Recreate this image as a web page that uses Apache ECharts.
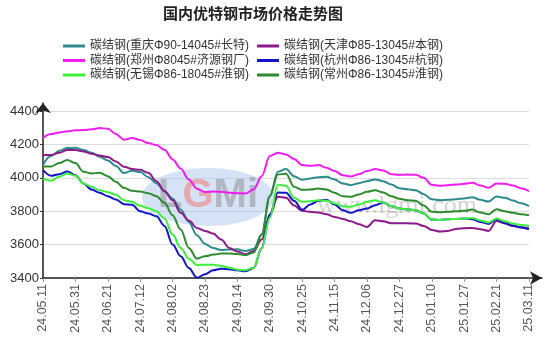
<!DOCTYPE html>
<html><head><meta charset="utf-8">
<script src="https://cdn.jsdelivr.net/npm/echarts@6/dist/echarts.min.js"></script>
<style>html,body{margin:0;padding:0;background:#fff}#c{width:554px;height:355px}</style>
</head><body><div id="c"></div>
<script>
const titleText = '国内优特钢市场价格走势图';
const categories = ['24.05.11','24.05.16','24.05.21','24.05.26','24.05.31','24.06.05','24.06.11','24.06.16','24.06.21','24.06.26','24.07.02','24.07.07','24.07.12','24.07.17','24.07.23','24.07.28','24.08.02','24.08.07','24.08.13','24.08.18','24.08.23','24.08.28','24.09.03','24.09.09','24.09.14','24.09.18','24.09.22','24.09.26','24.09.30','24.10.10','24.10.16','24.10.20','24.10.25','24.10.30','24.11.05','24.11.10','24.11.15','24.11.20','24.11.26','24.12.01','24.12.06','24.12.11','24.12.17','24.12.22','24.12.27','24.12.31','25.01.03','25.01.07','25.01.10','25.01.14','25.01.18','25.01.23','25.01.27','25.02.06','25.02.12','25.02.17','25.02.21','25.02.25','25.03.01','25.03.06','25.03.11'];
const yMin = 3400, yMax = 4400, yStep = 200;
const seriesNames = ['碳结钢(重庆Φ90-14045#长特)','碳结钢(天津Φ85-13045#本钢)','碳结钢(郑州Φ8045#济源钢厂)','碳结钢(杭州Φ86-13045#杭钢)','碳结钢(无锡Φ86-18045#淮钢)','碳结钢(常州Φ86-13045#淮钢)'];
const seriesColors = ['#2e8b8b','#8b1a8b','#f01cf0','#1414c8','#3cf03c','#2e8b2e'];
const chongqing = [4078,4130,4162,4178,4180,4166,4150,4126,4104,4070,4028,4042,4034,4004,3968,3920,3876,3810,3736,3656,3604,3580,3568,3570,3572,3562,3574,3660,3890,4036,4052,4010,3988,3996,4004,4006,3990,3966,3956,3968,3980,3990,3980,3960,3938,3932,3926,3902,3872,3866,3868,3872,3876,3884,3868,3858,3888,3880,3864,3848,3830];
const tianjin = [4136,4136,4150,4166,4166,4158,4144,4134,4124,4098,4066,4052,4048,4030,3980,3920,3866,3790,3744,3700,3682,3666,3630,3580,3558,3542,3562,3630,3776,3886,3880,3834,3802,3796,3792,3782,3766,3754,3740,3722,3706,3746,3740,3728,3728,3728,3726,3712,3688,3678,3682,3694,3698,3700,3692,3682,3742,3726,3712,3704,3696];
const zhengzhou = [4240,4262,4272,4278,4284,4286,4290,4298,4294,4262,4228,4238,4226,4208,4196,4168,4110,4056,3990,3935,3915,3918,3916,3910,3908,3906,3930,4010,4130,4150,4140,4112,4076,4072,4076,4060,4040,4016,4008,4022,4040,4052,4044,4022,4018,4020,4018,4000,3958,3952,3956,3960,3964,3970,3954,3940,3966,3964,3954,3938,3920];
const hangzhou = [4046,4012,4022,4038,4016,3966,3930,3910,3890,3870,3842,3838,3800,3786,3770,3712,3600,3530,3460,3402,3422,3446,3456,3452,3446,3440,3460,3580,3780,3912,3910,3862,3808,3840,3862,3868,3840,3806,3790,3806,3816,3836,3852,3830,3816,3810,3806,3786,3750,3748,3752,3754,3756,3752,3736,3724,3752,3730,3714,3702,3692];
const wuxi = [3996,3982,4006,4026,4012,3966,3946,3926,3914,3898,3866,3856,3832,3818,3800,3756,3660,3580,3515,3478,3480,3480,3472,3462,3450,3446,3462,3580,3760,3958,3952,3880,3856,3860,3866,3862,3846,3830,3826,3840,3856,3866,3852,3830,3816,3810,3806,3786,3750,3748,3752,3754,3756,3760,3744,3732,3756,3740,3726,3718,3712];
const changzhou = [4068,4068,4088,4106,4088,4036,4026,4030,4010,3976,3940,3922,3918,3908,3890,3850,3776,3690,3580,3516,3530,3540,3546,3546,3544,3536,3552,3660,3890,4020,4024,3946,3928,3930,3936,3930,3910,3890,3886,3900,3916,3926,3912,3890,3874,3866,3862,3834,3796,3794,3796,3800,3802,3810,3792,3782,3812,3800,3790,3782,3776];
const seriesData = [chongqing, tianjin, zhengzhou, hangzhou, wuxi, changzhou];

const latin = '"Liberation Sans", "Noto Sans CJK SC", sans-serif';
const chart = echarts.init(document.getElementById('c'), null, {renderer: 'canvas'});
const legendStyle = {
  orient: 'vertical', top: 40, padding: 0, icon: 'rect', itemWidth: 22, itemHeight: 3, itemGap: 2.5,
  textStyle: {fontSize: 12, color: '#333', fontFamily: latin}
};
chart.setOption({
  animation: false,
  backgroundColor: '#fff',
  title: {text: titleText, left: 163, top: 6, padding: 0,
    textStyle: {fontSize: 15, fontWeight: 'bold', color: '#222', fontFamily: '"Noto Sans CJK SC", sans-serif'}},
  legend: [
    Object.assign({left: 63, data: [seriesNames[0], seriesNames[2], seriesNames[4]]}, legendStyle),
    Object.assign({left: 257, data: [seriesNames[1], seriesNames[3], seriesNames[5]]}, legendStyle)
  ],
  graphic: [
    {type: 'ellipse', z: 1, shape: {cx: 208, cy: 197, rx: 66, ry: 29}, style: {fill: 'rgba(165,190,232,0.45)'}},
    {type: 'text', z: 1, x: 208, y: 196, style: {text: '{a|L}{b|G}{a|Mi}', align: 'center', verticalAlign: 'middle',
      rich: {a: {fontSize: 40, fontWeight: 'bold', fontFamily: latin, fill: 'rgba(140,140,140,0.5)'},
             b: {fontSize: 40, fontWeight: 'bold', fontFamily: latin, fill: 'rgba(240,120,120,0.55)'}}}},
    {type: 'text', z: 1, x: 317, y: 206, style: {text: 'www.lgmi.com', font: '26px "Liberation Serif"', fill: 'rgba(110,110,110,0.3)', verticalAlign: 'middle'}}
  ],
  grid: [
    {left: 43, right: 25, top: 111, bottom: 77},
    {left: 43, right: 12, top: 103, bottom: 77}
  ],
  xAxis: [
    {type: 'category', gridIndex: 0, data: categories, boundaryGap: false,
      axisLine: {show: false},
      axisTick: {show: true, interval: 3, length: 4, lineStyle: {color: '#999'}},
      axisLabel: {interval: 3, rotate: 90, margin: 6, fontSize: 12.5, color: '#555', fontFamily: latin},
      splitLine: {show: false}},
    {type: 'value', gridIndex: 1, min: 0, max: 1,
      axisLine: {show: true, onZero: false, symbol: ['none', 'arrow'], symbolSize: [10, 12], lineStyle: {color: '#222', width: 1.5}},
      axisTick: {show: false}, axisLabel: {show: false}, splitLine: {show: false}}
  ],
  yAxis: [
    {type: 'value', gridIndex: 0, min: yMin, max: yMax, interval: yStep,
      axisLine: {show: false},
      axisTick: {show: true, length: 3, lineStyle: {color: '#333'}},
      axisLabel: {fontSize: 13, color: '#333', margin: 4, fontFamily: latin, formatter: v => String(v)},
      splitLine: {show: true, lineStyle: {color: '#dcdcdc', width: 1}}},
    {type: 'value', gridIndex: 1, min: 0, max: 1,
      axisLine: {show: true, onZero: false, symbol: ['none', 'arrow'], symbolSize: [12, 10], lineStyle: {color: '#222', width: 1.5}},
      axisTick: {show: false}, axisLabel: {show: false}, splitLine: {show: false}}
  ],
  series: seriesNames.map((n, k) => ({
    name: n, type: 'line', xAxisIndex: 0, yAxisIndex: 0, data: seriesData[k],
    smooth: 0.35, smoothMonotone: 'x', showSymbol: false, symbol: 'none',
    lineStyle: {width: 2, color: seriesColors[k]}, itemStyle: {color: seriesColors[k]}, z: 3
  }))
});
</script></body></html>
